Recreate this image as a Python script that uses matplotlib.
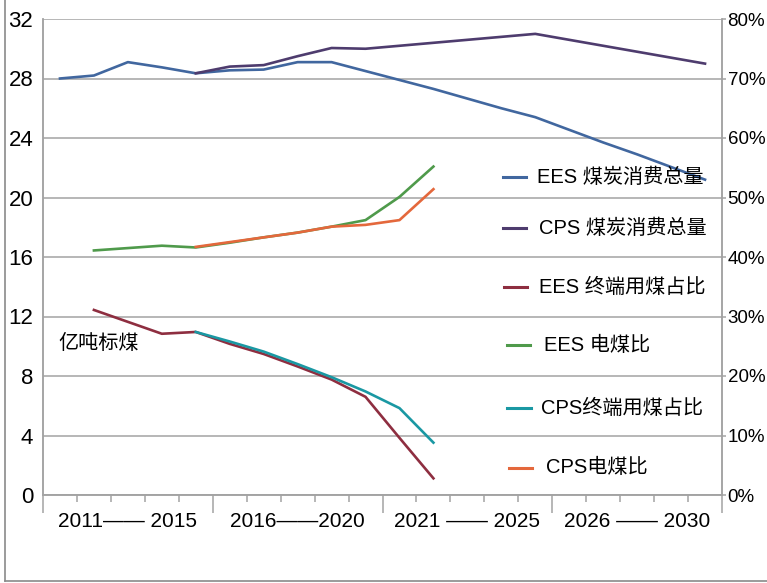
import numpy as np
import matplotlib
matplotlib.use("Agg")
import matplotlib.pyplot as plt
from matplotlib.lines import Line2D
from matplotlib.ticker import FuncFormatter

plt.rcParams["font.family"] = ["Liberation Sans", "Noto Sans CJK SC"]

# 2011 .. 2030, one slot per year
years = list(range(2011, 2031))
nan = np.nan

# left axis, 亿吨标煤
ees_total = [28.0, 28.2, 29.1, 28.75, 28.35, 28.55, 28.6, 29.1, 29.1, 28.5,
             27.9, 27.3, 26.65, 26.0, 25.4, 24.55, 23.7, 22.9, 22.05, 21.2]
cps_total = [nan, nan, nan, nan, 28.35, 28.8, 28.9, 29.5, 30.05, 30.0,
             30.2, 30.4, 30.6, 30.8, 31.0, 30.6, 30.2, 29.8, 29.4, 29.0]

# right axis, %
ees_end = [nan, 31.1, 29.1, 27.1, 27.4, 25.4, 23.7, 21.6, 19.4, 16.5,
           9.6, 2.8] + [nan] * 8
ees_power = [nan, 41.1, 41.5, 41.9, 41.6, 42.4, 43.3, 44.1, 45.1, 46.2,
             50.1, 55.2] + [nan] * 8
cps_end = [nan, nan, nan, nan, 27.4, 25.8, 24.1, 22.0, 19.8, 17.4,
           14.6, 8.8] + [nan] * 8
cps_power = [nan, nan, nan, nan, 41.7, 42.5, 43.3, 44.1, 45.1, 45.4,
             46.2, 51.4] + [nan] * 8

group_labels = ["2011—— 2015", "2016——2020", "2021 —— 2025", "2026 —— 2030"]
legend_names = ["EES 煤炭消费总量", "CPS 煤炭消费总量", "EES 终端用煤占比",
                "EES 电煤比", "CPS终端用煤占比", "CPS电煤比"]

c_blue = "#41679f"
c_purple = "#4e3c6e"
c_maroon = "#8e2e40"
c_green = "#4f9a4b"
c_teal = "#1a98a3"
c_orange = "#e4683c"
gray = "#a3a3a3"

fig = plt.figure(figsize=(7.67, 5.83), dpi=100)
ax = fig.add_axes([43 / 767, 88 / 583, 679 / 767, 476 / 583])
ax2 = ax.twinx()

x = np.arange(len(years)) + 0.5
lw = 1.9

ax.plot(x, ees_total, color=c_blue, lw=lw)
ax.plot(x, cps_total, color=c_purple, lw=lw)
ax2.plot(x, ees_power, color=c_green, lw=lw)
ax2.plot(x, cps_power, color=c_orange, lw=lw)
ax2.plot(x, ees_end, color=c_maroon, lw=lw)
ax2.plot(x, cps_end, color=c_teal, lw=lw)

ax.set_xlim(0, 20)
ax.set_ylim(0, 32)
ax2.set_ylim(0, 80)

ax.set_yticks(np.arange(0, 33, 4))
ax2.set_yticks(np.arange(0, 81, 10))
ax2.yaxis.set_major_formatter(FuncFormatter(lambda v, p: f"{v:.0f}%"))

ax.yaxis.grid(True, color=gray, lw=1.1)
ax.set_axisbelow(True)

ax.set_xticks(np.arange(0, 21, 5))
ax.set_xticks(np.arange(1, 20), minor=True)
ax.set_xticklabels([])
ax.tick_params(axis="x", which="major", length=13, color=gray, width=1.1)
ax.tick_params(axis="x", which="minor", length=5, color=gray, width=1.1)
ax.tick_params(axis="y", length=0, pad=7, labelsize=16)
ax2.tick_params(axis="y", length=3, color=gray, width=1.1, pad=1, labelsize=13.5)

for a in (ax, ax2):
    a.spines["top"].set_visible(False)
    for s in ("left", "right", "bottom"):
        a.spines[s].set_color(gray)
        a.spines[s].set_linewidth(1.1)

for i, lab in enumerate(group_labels):
    ax.text(2.5 + 5 * i, -0.055, lab, transform=ax.get_xaxis_transform(),
            ha="center", va="center", fontsize=15)

ax.text(0.45, 10.2, "亿吨标煤", ha="left", va="center", fontsize=14.5)

# legend drawn by hand, entries spaced like the original
leg_colors = [c_blue, c_purple, c_maroon, c_green, c_teal, c_orange]
leg_y = [0.668, 0.561, 0.437, 0.315, 0.183, 0.057]
leg_x = [0.677, 0.677, 0.679, 0.683, 0.684, 0.686]
leg_tx = [0.727, 0.730, 0.730, 0.738, 0.734, 0.741]
for name, col, yy, xx, tx in zip(legend_names, leg_colors, leg_y, leg_x, leg_tx):
    ax.plot([xx, xx + 0.034], [yy, yy], transform=ax.transAxes, color=col,
            lw=2.2, clip_on=False)
    ax.text(tx, yy, name, transform=ax.transAxes, ha="left", va="center",
            fontsize=14.5)

# thin frame around the picture (left and bottom edges)
fig.add_artist(Line2D([5 / 767, 5 / 767], [0.003, 1.0], color="#8a8a8a", lw=1.2))
fig.add_artist(Line2D([5 / 767, 1.0], [0.003, 0.003], color="#8a8a8a", lw=1.2))

fig.savefig("out.png", dpi=100)
